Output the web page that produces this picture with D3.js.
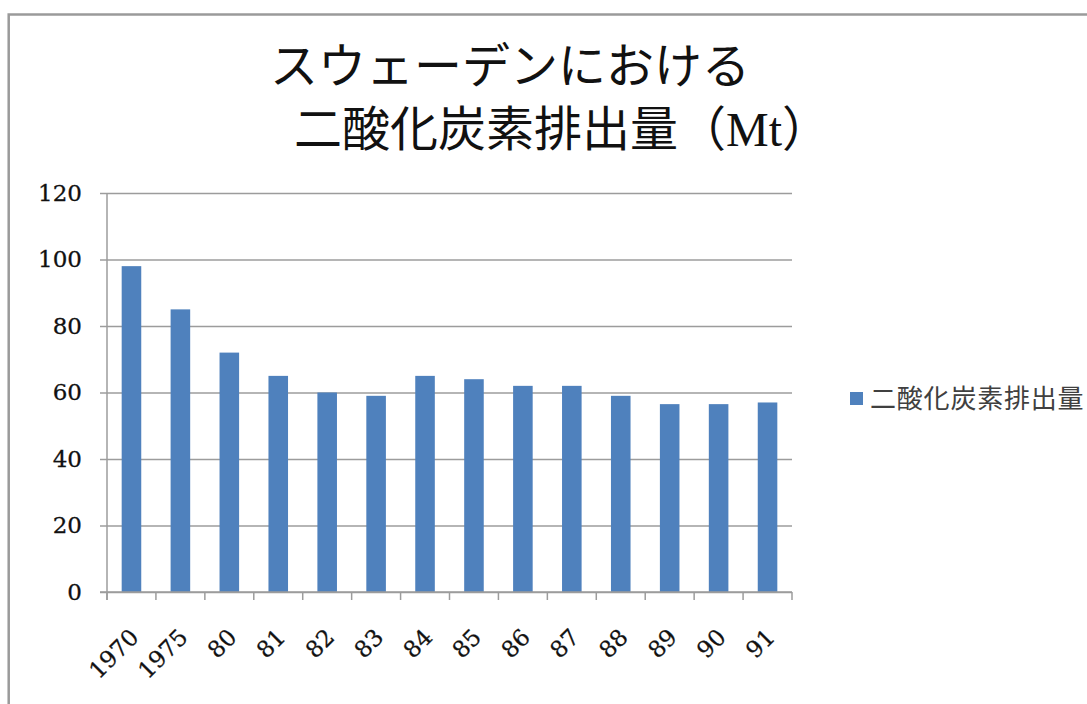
<!DOCTYPE html>
<html>
<head>
<meta charset="utf-8">
<script src="https://cdnjs.cloudflare.com/ajax/libs/d3/7.8.5/d3.min.js"></script>
<style>
  body { margin: 0; background: #fff; }
</style>
</head>
<body>
<div id="graph"></div>
<script>
// data
const categories = ["1970", "1975", "80", "81", "82", "83", "84", "85", "86", "87", "88", "89", "90", "91"];
const emissions = [98, 85, 72, 65, 60, 59, 65, 64, 62, 62, 59, 56.5, 56.5, 57];
const yTicks = [0, 20, 40, 60, 80, 100, 120];
const titleLines = ["スウェーデンにおける", "二酸化炭素排出量（Mt）"];
const seriesName = "二酸化炭素排出量";

const fullwidth = 1087;
const fullheight = 704;

// plot area
const plotLeft = 107;
const plotRight = 792;
const plotTop = 193;
const plotBottom = 592;

const serif = "'DejaVu Serif', 'Liberation Serif', serif";
const cjk = "'Liberation Serif', 'Noto Sans CJK JP', sans-serif";

var svg = d3.select("#graph")
    .append("svg")
    .attr("width", fullwidth)
    .attr("height", fullheight);

// chart area border (right and bottom run off the picture)
svg.append("rect")
    .attr("x", 8.7)
    .attr("y", 14.5)
    .attr("width", 1200)
    .attr("height", 800)
    .attr("fill", "none")
    .attr("stroke", "#9a9a9a")
    .attr("stroke-width", 2.5);

// title, two lines
svg.append("text")
    .attr("x", 510)
    .attr("y", 83)
    .attr("text-anchor", "middle")
    .attr("font-family", cjk)
    .attr("font-size", 48)
    .attr("fill", "#111")
    .text(titleLines[0]);

svg.append("text")
    .attr("x", 562)
    .attr("y", 146)
    .attr("text-anchor", "middle")
    .attr("font-family", cjk)
    .attr("font-size", 48)
    .attr("fill", "#111")
    .text(titleLines[1]);

// scales
var xScale = d3.scaleBand()
    .domain(categories)
    .range([plotLeft, plotRight])
    .paddingInner(0.6)
    .paddingOuter(0.3);

var yScale = d3.scaleLinear()
    .domain([0, 120])
    .range([plotBottom, plotTop]);

// horizontal gridlines
svg.append("g")
    .attr("transform", "translate(" + plotLeft + ",0)")
    .call(d3.axisLeft(yScale).tickValues(yTicks).tickSize(-(plotRight - plotLeft)).tickFormat(""))
    .call(g => g.select(".domain").remove())
    .call(g => g.selectAll("line").attr("stroke", "#9c9c9c").attr("stroke-width", 1.5));

// y axis with ticks and labels
svg.append("g")
    .attr("id", "y-axis")
    .attr("transform", "translate(" + plotLeft + ",0)")
    .call(d3.axisLeft(yScale).tickValues(yTicks).tickSize(7).tickSizeOuter(0).tickPadding(18))
    .call(g => g.select(".domain").attr("stroke", "#9c9c9c").attr("stroke-width", 1.5)
        .attr("d", "M0," + plotTop + "V" + (plotBottom + 8)))
    .call(g => g.selectAll("line").attr("stroke", "#9c9c9c").attr("stroke-width", 1.5))
    .call(g => g.selectAll("text")
        .attr("font-family", serif)
        .attr("font-size", 23)
        .attr("stroke", "#111")
        .attr("stroke-width", 0.3)
        .attr("fill", "#111"));

// bars
svg.selectAll("rect.bar")
    .data(emissions)
    .enter()
    .append("rect")
    .attr("class", "bar")
    .attr("x", (d, i) => xScale(categories[i]))
    .attr("y", (d) => yScale(d))
    .attr("width", xScale.bandwidth())
    .attr("height", (d) => yScale(0) - yScale(d))
    .attr("fill", "#4f81bd");

// x axis: line and tick marks on category boundaries
var xAxis = svg.append("g")
    .attr("id", "x-axis")
    .attr("transform", "translate(0," + plotBottom + ")");

xAxis.append("line")
    .attr("x1", plotLeft - 7)
    .attr("x2", plotRight)
    .attr("stroke", "#9c9c9c")
    .attr("stroke-width", 1.5);

xAxis.selectAll("line.tick")
    .data(d3.range(categories.length + 1))
    .enter()
    .append("line")
    .attr("class", "tick")
    .attr("x1", (i) => plotLeft + i * xScale.step())
    .attr("x2", (i) => plotLeft + i * xScale.step())
    .attr("y1", 0)
    .attr("y2", 8)
    .attr("stroke", "#9c9c9c")
    .attr("stroke-width", 1.5);

// rotated category labels
svg.append("g")
    .attr("transform", "translate(0," + plotBottom + ")")
    .call(d3.axisBottom(xScale).tickSize(0))
    .call(g => g.select(".domain").remove())
    .call(g => g.selectAll("text")
        .attr("x", 0)
        .attr("y", 0)
        .attr("dy", "0.35em")
        .attr("transform", "translate(3,41) rotate(-45)")
        .attr("text-anchor", "end")
        .attr("font-family", serif)
        .attr("font-size", 23)
        .attr("stroke", "#111")
        .attr("stroke-width", 0.3)
        .attr("fill", "#111"));

// legend
svg.append("rect")
    .attr("x", 850)
    .attr("y", 392)
    .attr("width", 13)
    .attr("height", 13)
    .attr("fill", "#4f81bd");

svg.append("text")
    .attr("x", 870)
    .attr("y", 399)
    .attr("dy", "0.35em")
    .attr("font-family", "'Noto Sans CJK JP', sans-serif")
    .attr("font-size", 26)
    .attr("letter-spacing", 0.8)
    .attr("fill", "#404040")
    .text(seriesName);
</script>
</body>
</html>
